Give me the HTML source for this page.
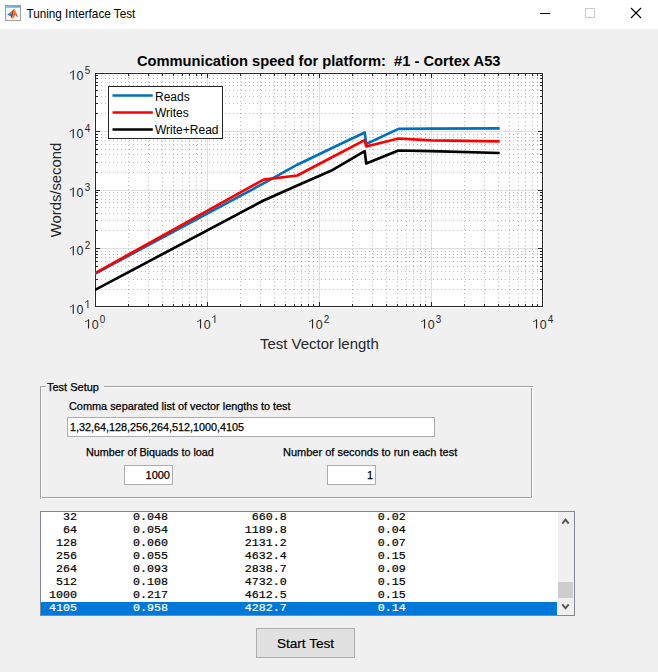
<!DOCTYPE html>
<html><head><meta charset="utf-8"><title>Tuning Interface Test</title>
<style>
html,body{margin:0;padding:0;}
body{width:658px;height:672px;overflow:hidden;background:#f0f0f0;position:relative;font-family:"Liberation Sans",sans-serif;}
.abs{position:absolute;}
#titlebar{position:absolute;left:0;top:0;width:658px;height:29px;background:#fff;}
#ttl{position:absolute;left:26px;top:6px;font-size:11.7px;line-height:17px;color:#000;}
.win{font-size:11px;color:#000;white-space:nowrap;position:absolute;line-height:13px;-webkit-text-stroke:0.25px #000;}
.edit{position:absolute;background:#fff;border:1px solid #abadb3;box-sizing:border-box;}
#list{position:absolute;left:40px;top:511px;width:535px;height:105px;box-sizing:border-box;border:1px solid #828790;background:#fff;overflow:hidden;}
.row{position:absolute;left:0;height:13px;width:516px;font-family:"Liberation Mono",monospace;font-size:11.67px;-webkit-text-stroke:0.2px;line-height:13px;white-space:pre;color:#000;padding-left:1px;box-sizing:border-box;}
.sel{background:#0078d7;color:#fff;}
#sb{position:absolute;left:517px;top:0;width:17px;height:103px;background:#f0f0f0;}
#btn{position:absolute;left:256px;top:628px;width:99px;height:30px;box-sizing:border-box;border:1px solid #adadad;background:#e1e1e1;font-size:13.6px;text-align:center;line-height:30px;color:#000;-webkit-text-stroke:0.2px #000;}
</style></head><body>
<div id="titlebar">
<svg width="16" height="16" viewBox="0 0 16 16" style="position:absolute;left:5px;top:5px">
<defs><linearGradient id="tb" x1="0" y1="0" x2="1" y2="0"><stop offset="0" stop-color="#8ac4ee"/><stop offset="1" stop-color="#5a9fdc"/></linearGradient></defs>
<rect x="0" y="0" width="16" height="16" fill="#9c9fa3"/>
<rect x="1" y="1" width="14" height="1.1" fill="url(#tb)"/>
<rect x="1" y="2.1" width="14" height="0.9" fill="#b9bbbe"/>
<rect x="1" y="3" width="14" height="12" fill="#f7f7f7"/>
<path d="M2.1 9.4 L7.3 5.8 L5.6 11 Z" fill="#4896d6"/>
<path d="M2.1 9.4 L5.6 11 L6.2 9.2 Z" fill="#2f78bd"/>
<path d="M7.3 5.8 L8.8 4.3 L9.3 4.1 L7.6 11 L6.9 13.4 L6.2 12.7 L5.6 11 Z" fill="#b3301d"/>
<path d="M9.3 4.1 L10 4.1 L10.6 6.5 L11.2 8.5 L10.2 10 L8.5 13.2 L6.9 13.4 L7.6 11 Z" fill="#e8721f"/>
<path d="M9.1 4.6 L9.9 4.3 L9.6 7.5 L9.1 7.2 Z" fill="#f6c22e"/>
<path d="M10 4.1 L10.6 6.5 L11.3 8.2 L12.9 11.9 L12.2 12.1 L11 10.4 L10.2 10 L11.2 8.5 Z" fill="#c43b23"/>
<path d="M6.2 12.6 L6.9 13.6 L8.5 13.2 L8.1 12.2 Z" fill="#f2a420"/>
</svg>

<svg width="658" height="29" style="position:absolute;left:0;top:0">
<text x="26.4" y="18" font-family="Liberation Sans" font-size="12.6" textLength="109" lengthAdjust="spacingAndGlyphs" fill="#000">Tuning Interface Test</text>
<line x1="540" y1="13.5" x2="550" y2="13.5" stroke="#000" stroke-width="1"/>
<rect x="585.5" y="8.5" width="9" height="9" fill="none" stroke="#cccccc" stroke-width="1"/>
<path d="M631 8 L641 18 M641 8 L631 18" stroke="#000" stroke-width="1.1"/>
</svg>
</div>
<svg width="658" height="672" style="position:absolute;left:0;top:0">
<defs><clipPath id="ax"><rect x="95" y="73" width="448" height="234"/></clipPath></defs>
<rect x="94" y="72" width="450" height="236" fill="#fff"/>
<line x1="207.5" y1="73" x2="207.5" y2="307" stroke="#262626" stroke-opacity="0.15" stroke-width="1"/>
<line x1="319.5" y1="73" x2="319.5" y2="307" stroke="#262626" stroke-opacity="0.15" stroke-width="1"/>
<line x1="431.5" y1="73" x2="431.5" y2="307" stroke="#262626" stroke-opacity="0.15" stroke-width="1"/>
<line x1="95" y1="248.5" x2="543" y2="248.5" stroke="#262626" stroke-opacity="0.15" stroke-width="1"/>
<line x1="95" y1="190.5" x2="543" y2="190.5" stroke="#262626" stroke-opacity="0.15" stroke-width="1"/>
<line x1="95" y1="131.5" x2="543" y2="131.5" stroke="#262626" stroke-opacity="0.15" stroke-width="1"/>
<path d="M128.5 306V74M148.5 306V74M162.5 306V74M173.5 306V74M182.5 306V74M189.5 306V74M196.5 306V74M201.5 306V74M240.5 306V74M260.5 306V74M274.5 306V74M285.5 306V74M294.5 306V74M301.5 306V74M308.5 306V74M313.5 306V74M352.5 306V74M372.5 306V74M386.5 306V74M397.5 306V74M406.5 306V74M413.5 306V74M420.5 306V74M425.5 306V74M464.5 306V74M484.5 306V74M498.5 306V74M509.5 306V74M518.5 306V74M525.5 306V74M532.5 306V74M537.5 306V74" stroke="#1a1a1a" stroke-opacity="0.29" stroke-width="1" stroke-dasharray="1 3" fill="none"/>
<path d="M97 289.5H542M97 279.5H542M97 271.5H542M97 266.5H542M97 261.5H542M97 257.5H542M97 254.5H542M97 251.5H542M97 230.5H542M97 220.5H542M97 213.5H542M97 207.5H542M97 202.5H542M97 199.5H542M97 195.5H542M97 192.5H542M97 172.5H542M97 162.5H542M97 154.5H542M97 149.5H542M97 144.5H542M97 140.5H542M97 137.5H542M97 134.5H542M97 113.5H542M97 103.5H542M97 96.5H542M97 90.5H542M97 85.5H542M97 82.5H542M97 78.5H542M97 75.5H542" stroke="#1a1a1a" stroke-opacity="0.29" stroke-width="1" stroke-dasharray="1 3" fill="none"/>
<path d="M128.5 306v-2M128.5 74v2M148.5 306v-2M148.5 74v2M162.5 306v-2M162.5 74v2M173.5 306v-2M173.5 74v2M182.5 306v-2M182.5 74v2M189.5 306v-2M189.5 74v2M196.5 306v-2M196.5 74v2M201.5 306v-2M201.5 74v2M207.5 306v-4M207.5 74v4M240.5 306v-2M240.5 74v2M260.5 306v-2M260.5 74v2M274.5 306v-2M274.5 74v2M285.5 306v-2M285.5 74v2M294.5 306v-2M294.5 74v2M301.5 306v-2M301.5 74v2M308.5 306v-2M308.5 74v2M313.5 306v-2M313.5 74v2M319.5 306v-4M319.5 74v4M352.5 306v-2M352.5 74v2M372.5 306v-2M372.5 74v2M386.5 306v-2M386.5 74v2M397.5 306v-2M397.5 74v2M406.5 306v-2M406.5 74v2M413.5 306v-2M413.5 74v2M420.5 306v-2M420.5 74v2M425.5 306v-2M425.5 74v2M431.5 306v-4M431.5 74v4M464.5 306v-2M464.5 74v2M484.5 306v-2M484.5 74v2M498.5 306v-2M498.5 74v2M509.5 306v-2M509.5 74v2M518.5 306v-2M518.5 74v2M525.5 306v-2M525.5 74v2M532.5 306v-2M532.5 74v2M537.5 306v-2M537.5 74v2M96 289.5h2M542 289.5h-2M96 279.5h2M542 279.5h-2M96 271.5h2M542 271.5h-2M96 266.5h2M542 266.5h-2M96 261.5h2M542 261.5h-2M96 257.5h2M542 257.5h-2M96 254.5h2M542 254.5h-2M96 251.5h2M542 251.5h-2M96 248.5h4M542 248.5h-4M96 230.5h2M542 230.5h-2M96 220.5h2M542 220.5h-2M96 213.5h2M542 213.5h-2M96 207.5h2M542 207.5h-2M96 202.5h2M542 202.5h-2M96 199.5h2M542 199.5h-2M96 195.5h2M542 195.5h-2M96 192.5h2M542 192.5h-2M96 190.5h4M542 190.5h-4M96 172.5h2M542 172.5h-2M96 162.5h2M542 162.5h-2M96 154.5h2M542 154.5h-2M96 149.5h2M542 149.5h-2M96 144.5h2M542 144.5h-2M96 140.5h2M542 140.5h-2M96 137.5h2M542 137.5h-2M96 134.5h2M542 134.5h-2M96 131.5h4M542 131.5h-4M96 113.5h2M542 113.5h-2M96 103.5h2M542 103.5h-2M96 96.5h2M542 96.5h-2M96 90.5h2M542 90.5h-2M96 85.5h2M542 85.5h-2M96 82.5h2M542 82.5h-2M96 78.5h2M542 78.5h-2M96 75.5h2M542 75.5h-2" stroke="#262626" stroke-width="1" fill="none"/>
<rect x="95.5" y="73.5" width="447" height="233" fill="none" stroke="#262626" stroke-width="1"/>
<g fill="none" stroke-width="2.67" stroke-linejoin="round" clip-path="url(#ax)">
<polyline points="95.00,273.70 263.58,183.40 297.29,164.70 331.01,148.50 364.72,132.50 366.22,144.00 398.44,128.90 431.00,128.60 499.69,128.30" stroke="#0072bd"/>
<polyline points="95.00,273.20 263.58,179.60 297.29,175.50 331.01,157.70 364.72,140.10 366.22,146.50 398.44,138.50 431.00,140.40 499.69,141.30" stroke="#ff0000"/>
<polyline points="95.00,289.90 263.58,200.53 297.29,185.58 331.01,170.78 364.72,151.05 366.22,163.49 398.44,150.51 431.00,151.16 499.69,153.04" stroke="#000000"/>
</g>
<rect x="108.5" y="86.5" width="114" height="52" fill="#fff" stroke="#262626" stroke-width="1"/>
<line x1="112.5" y1="95.5" x2="152.8" y2="95.5" stroke="#0072bd" stroke-width="2.67"/>
<line x1="112.5" y1="112.5" x2="152.8" y2="112.5" stroke="#ff0000" stroke-width="2.67"/>
<line x1="112.5" y1="129.5" x2="152.8" y2="129.5" stroke="#000" stroke-width="2.67"/>
<text x="155" y="100.6" font-family="Liberation Sans" font-size="12" fill="#000">Reads</text>
<text x="155" y="117" font-family="Liberation Sans" font-size="12" fill="#000">Writes</text>
<text x="155" y="134" font-family="Liberation Sans" font-size="12" fill="#000">Write+Read</text>
<path d="M73.85 313.80 L73.85 304.49 L73.03 304.49 L72.38 305.16 L71.21 306.00 L69.78 306.65 L69.78 307.50 L70.95 306.98 L71.99 306.32 L72.70 305.74 L72.70 313.80 Z" fill="#262626"/><text transform="translate(76.42,313.80) scale(0.92,1)" font-family="Liberation Sans" fill="#262626" font-size="13.5">0</text><path d="M88.38 307.90 L88.38 300.17 L87.70 300.17 L87.16 300.72 L86.19 301.42 L85.00 301.96 L85.00 302.66 L85.97 302.23 L86.83 301.69 L87.43 301.20 L87.43 307.90 Z" fill="#262626"/>
<path d="M73.85 255.30 L73.85 245.99 L73.03 245.99 L72.38 246.66 L71.21 247.50 L69.78 248.15 L69.78 249.00 L70.95 248.48 L71.99 247.83 L72.70 247.24 L72.70 255.30 Z" fill="#262626"/><text transform="translate(76.42,255.30) scale(0.92,1)" font-family="Liberation Sans" fill="#262626" font-size="13.5">0</text><text transform="translate(84.78,249.40) scale(0.92,1)" font-family="Liberation Sans" fill="#262626" font-size="10.8">2</text>
<path d="M73.85 196.80 L73.85 187.49 L73.03 187.49 L72.38 188.16 L71.21 189.00 L69.78 189.65 L69.78 190.50 L70.95 189.98 L71.99 189.33 L72.70 188.74 L72.70 196.80 Z" fill="#262626"/><text transform="translate(76.42,196.80) scale(0.92,1)" font-family="Liberation Sans" fill="#262626" font-size="13.5">0</text><text transform="translate(84.78,190.90) scale(0.92,1)" font-family="Liberation Sans" fill="#262626" font-size="10.8">3</text>
<path d="M73.85 138.30 L73.85 128.99 L73.03 128.99 L72.38 129.66 L71.21 130.50 L69.78 131.15 L69.78 132.00 L70.95 131.48 L71.99 130.83 L72.70 130.24 L72.70 138.30 Z" fill="#262626"/><text transform="translate(76.42,138.30) scale(0.92,1)" font-family="Liberation Sans" fill="#262626" font-size="13.5">0</text><text transform="translate(84.78,132.40) scale(0.92,1)" font-family="Liberation Sans" fill="#262626" font-size="10.8">4</text>
<path d="M73.85 79.80 L73.85 70.49 L73.03 70.49 L72.38 71.16 L71.21 72.00 L69.78 72.65 L69.78 73.50 L70.95 72.97 L71.99 72.33 L72.70 71.74 L72.70 79.80 Z" fill="#262626"/><text transform="translate(76.42,79.80) scale(0.92,1)" font-family="Liberation Sans" fill="#262626" font-size="13.5">0</text><text transform="translate(84.78,73.90) scale(0.92,1)" font-family="Liberation Sans" fill="#262626" font-size="10.8">5</text>
<path d="M89.10 328.60 L89.10 319.29 L88.28 319.29 L87.63 319.96 L86.46 320.80 L85.03 321.45 L85.03 322.30 L86.20 321.78 L87.24 321.12 L87.95 320.54 L87.95 328.60 Z" fill="#262626"/><text transform="translate(91.67,328.60) scale(0.92,1)" font-family="Liberation Sans" fill="#262626" font-size="13.5">0</text><text transform="translate(99.78,323.10) scale(0.92,1)" font-family="Liberation Sans" fill="#262626" font-size="10.8">0</text>
<path d="M201.10 328.60 L201.10 319.29 L200.28 319.29 L199.63 319.96 L198.46 320.80 L197.03 321.45 L197.03 322.30 L198.20 321.78 L199.24 321.12 L199.96 320.54 L199.96 328.60 Z" fill="#262626"/><text transform="translate(203.67,328.60) scale(0.92,1)" font-family="Liberation Sans" fill="#262626" font-size="13.5">0</text><path d="M215.38 323.10 L215.38 315.37 L214.70 315.37 L214.16 315.92 L213.19 316.62 L212.00 317.16 L212.00 317.86 L212.97 317.43 L213.83 316.89 L214.43 316.40 L214.43 323.10 Z" fill="#262626"/>
<path d="M313.10 328.60 L313.10 319.29 L312.28 319.29 L311.63 319.96 L310.46 320.80 L309.03 321.45 L309.03 322.30 L310.20 321.78 L311.24 321.12 L311.95 320.54 L311.95 328.60 Z" fill="#262626"/><text transform="translate(315.67,328.60) scale(0.92,1)" font-family="Liberation Sans" fill="#262626" font-size="13.5">0</text><text transform="translate(323.78,323.10) scale(0.92,1)" font-family="Liberation Sans" fill="#262626" font-size="10.8">2</text>
<path d="M425.10 328.60 L425.10 319.29 L424.28 319.29 L423.63 319.96 L422.46 320.80 L421.03 321.45 L421.03 322.30 L422.20 321.78 L423.24 321.12 L423.95 320.54 L423.95 328.60 Z" fill="#262626"/><text transform="translate(427.67,328.60) scale(0.92,1)" font-family="Liberation Sans" fill="#262626" font-size="13.5">0</text><text transform="translate(435.78,323.10) scale(0.92,1)" font-family="Liberation Sans" fill="#262626" font-size="10.8">3</text>
<path d="M537.10 328.60 L537.10 319.29 L536.28 319.29 L535.63 319.96 L534.46 320.80 L533.03 321.45 L533.03 322.30 L534.20 321.78 L535.24 321.12 L535.96 320.54 L535.96 328.60 Z" fill="#262626"/><text transform="translate(539.67,328.60) scale(0.92,1)" font-family="Liberation Sans" fill="#262626" font-size="13.5">0</text><text transform="translate(547.78,323.10) scale(0.92,1)" font-family="Liberation Sans" fill="#262626" font-size="10.8">4</text>
<text x="319.4" y="348.8" text-anchor="middle" font-family="Liberation Sans" fill="#262626" font-size="14.9" textLength="118.6" lengthAdjust="spacingAndGlyphs">Test Vector length</text>
<text transform="translate(60.5,190) rotate(-90)" text-anchor="middle" font-family="Liberation Sans" fill="#262626" font-size="15" textLength="94.6" lengthAdjust="spacingAndGlyphs">Words/second</text>
<text x="136.9" y="65.7" font-family="Liberation Sans" font-weight="bold" font-size="15.2" textLength="363.6" lengthAdjust="spacingAndGlyphs" fill="#000">Communication speed for platform:&#160; #1 - Cortex A53</text>
<!-- panel etched border -->
<path d="M40.5 499V386.5H46 M104 386.5H533 M531.5 387V497.5H40" fill="none" stroke="#a0a0a0" stroke-width="1"/>
<path d="M41.5 498V387.5H46 M104 387.5H532 M532.5 387V498.5H41" fill="none" stroke="#fff" stroke-width="1"/>
</svg>
<div class="win" style="left:47px;top:381px;">Test Setup</div>
<div class="win" style="left:69px;top:400px;font-size:10.9px;">Comma separated list of vector lengths to test</div>
<div class="edit" style="left:67px;top:417px;width:368px;height:20px;"></div>
<div class="win" style="left:70px;top:421px;font-size:10.8px;">1,32,64,128,256,264,512,1000,4105</div>
<div class="win" style="left:86px;top:446px;font-size:10.8px;">Number of Biquads to load</div>
<div class="win" style="left:283px;top:446px;">Number of seconds to run each test</div>
<div class="edit" style="left:124px;top:465px;width:49px;height:20px;"></div>
<div class="win" style="left:124px;top:469px;width:46px;text-align:right;">1000</div>
<div class="edit" style="left:327px;top:465px;width:49px;height:20px;"></div>
<div class="win" style="left:327px;top:469px;width:46px;text-align:right;">1</div>
<div id="list">
<div class="row" style="top:-1px">   32        0.048            660.8             0.02</div>
<div class="row" style="top:12px">   64        0.054           1189.8             0.04</div>
<div class="row" style="top:25px">  128        0.060           2131.2             0.07</div>
<div class="row" style="top:38px">  256        0.055           4632.4             0.15</div>
<div class="row" style="top:51px">  264        0.093           2838.7             0.09</div>
<div class="row" style="top:64px">  512        0.108           4732.0             0.15</div>
<div class="row" style="top:77px"> 1000        0.217           4612.5             0.15</div>
<div class="row sel" style="top:90px"> 4105        0.958           4282.7             0.14</div>
<div id="sb">
<svg width="17" height="103" style="position:absolute;left:0;top:0">
<rect x="0" y="70" width="15" height="16" fill="#cdcdcd"/>
<path d="M4.3 11.6 L7.5 7.6 L10.7 11.6" fill="none" stroke="#555" stroke-width="1.9"/>
<path d="M4.3 92.3 L7.5 96.3 L10.7 92.3" fill="none" stroke="#555" stroke-width="1.9"/>
</svg>
</div>
</div>
<div id="btn">Start Test</div>
</body></html>
